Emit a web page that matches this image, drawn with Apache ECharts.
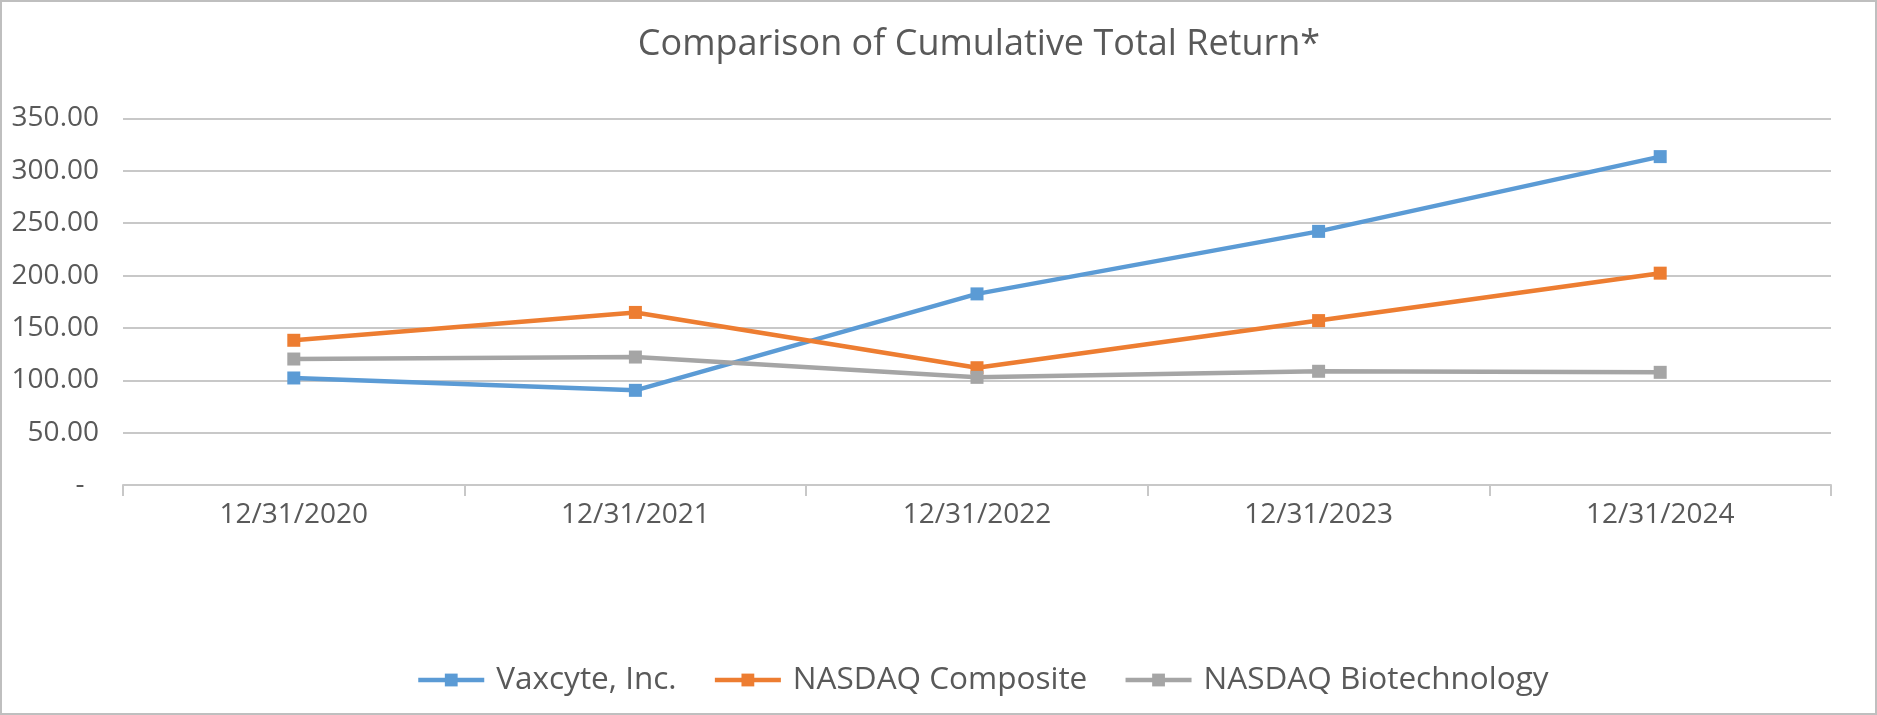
<!DOCTYPE html>
<html>
<head>
<meta charset="utf-8">
<script src="https://cdn.jsdelivr.net/npm/echarts@6/dist/echarts.min.js"></script>
<style>
html,body{margin:0;padding:0;background:#fff;}
#chart{width:1877px;height:715px;}
</style>
</head>
<body>
<div id="chart"></div>
<script>
var categories = ['12/31/2020', '12/31/2021', '12/31/2022', '12/31/2023', '12/31/2024'];
var vaxcyte = [102.2, 90.4, 182.5, 242.2, 313.6];
var nasdaqComposite = [138.2, 164.8, 112.0, 157.0, 202.3];
var nasdaqBiotech = [120.3, 122.2, 102.8, 108.6, 107.6];
var seriesNames = ['Vaxcyte, Inc.', 'NASDAQ Composite', 'NASDAQ Biotechnology'];
var colors = ['#5B9BD5', '#ED7D31', '#A5A5A5'];

var chart = echarts.init(document.getElementById('chart'), null, {renderer: 'canvas'});
var font = '"Open Sans", "Noto Sans", sans-serif';
var textColor = '#595959';

function mk(name, data, color) {
  return {
    name: name,
    type: 'line',
    data: data,
    symbol: 'rect',
    symbolSize: 13,
    lineStyle: {width: 4.5, color: color},
    itemStyle: {color: color},
    emphasis: {disabled: true}
  };
}

chart.setOption({
  animation: false,
  color: colors,
  textStyle: {fontFamily: font},
  title: {
    text: 'Comparison of Cumulative Total Return*',
    left: 974,
    textAlign: 'center',
    top: 22,
    textStyle: {fontFamily: font, fontSize: 36, fontWeight: 'normal', color: textColor}
  },
  legend: {
    data: seriesNames,
    left: 411,
    top: 659,
    itemWidth: 66,
    itemHeight: 16,
    itemGap: 36,
    lineStyle: {width: 4.5},
    textStyle: {fontFamily: font, fontSize: 31.5, color: textColor, padding: [0, 0, 0, 7]}
  },
  grid: {left: 123, right: 46, top: 118.5, bottom: 230, containLabel: false},
  xAxis: {
    type: 'category',
    data: categories,
    boundaryGap: true,
    axisLine: {show: true, lineStyle: {color: '#C8C8C8', width: 2}},
    axisTick: {show: true, length: 11, lineStyle: {color: '#C8C8C8', width: 2}},
    axisLabel: {fontFamily: font, fontSize: 28, color: textColor, margin: 16}
  },
  yAxis: {
    type: 'value',
    min: 0,
    max: 350,
    interval: 50,
    axisLine: {show: false},
    axisTick: {show: false},
    splitLine: {lineStyle: {color: '#C8C8C8', width: 2}},
    axisLabel: {
      fontFamily: font, fontSize: 28, color: textColor, margin: 24,
      formatter: function (v) { return v === 0 ? '-  ' : v.toFixed(2); }
    }
  },
  graphic: [{
    type: 'rect',
    shape: {x: 1, y: 1, width: 1875, height: 713},
    style: {fill: 'none', stroke: '#BFBFBF', lineWidth: 2},
    silent: true
  }],
  series: [
    mk(seriesNames[0], vaxcyte, colors[0]),
    mk(seriesNames[1], nasdaqComposite, colors[1]),
    mk(seriesNames[2], nasdaqBiotech, colors[2])
  ]
});
</script>
</body>
</html>
